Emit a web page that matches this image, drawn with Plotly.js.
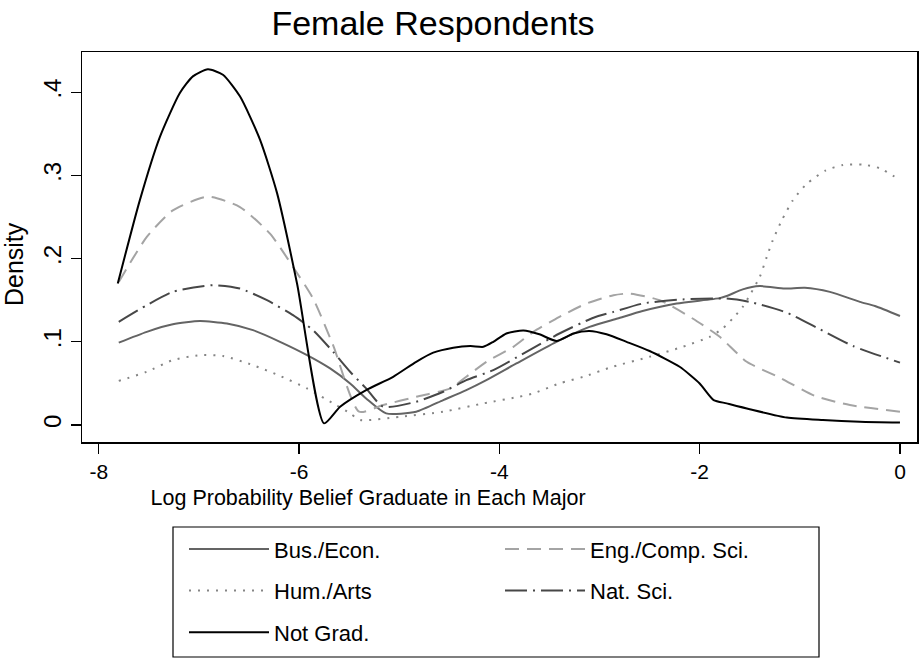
<!DOCTYPE html>
<html>
<head>
<meta charset="utf-8">
<script src="https://cdn.plot.ly/plotly-3.0.1.min.js"></script>
<style>html,body{margin:0;padding:0;background:#fff;}</style>
</head>
<body>
<div id="chart" style="width:923px;height:666px;"></div>
<script>
// ---- data ----
var seriesNames = ["Bus./Econ.", "Eng./Comp. Sci.", "Hum./Arts", "Nat. Sci.", "Not Grad."];

var busX = [-7.80, -7.52, -7.26, -6.99, -6.72, -6.46, -6.19, -5.92, -5.69, -5.49, -5.33, -5.13, -4.83, -4.56, -4.33, -4.13, -3.83, -3.43, -3.10, -2.82, -2.57, -2.23, -1.80, -1.73, -1.57, -1.40, -1.15, -0.95, -0.70, -0.40, -0.25, 0];
var busY = [0.099, 0.112, 0.121, 0.125, 0.122, 0.114, 0.100, 0.084, 0.068, 0.050, 0.032, 0.014, 0.016, 0.030, 0.042, 0.054, 0.074, 0.100, 0.118, 0.128, 0.137, 0.146, 0.1525, 0.155, 0.163, 0.167, 0.164, 0.165, 0.160, 0.148, 0.143, 0.131];

var engX = [-7.80, -7.52, -7.26, -6.91, -6.59, -6.29, -6.06, -5.86, -5.66, -5.40, -5.16, -4.83, -4.49, -4.33, -4.13, -3.86, -3.66, -3.40, -3.13, -2.86, -2.70, -2.40, -2.07, -1.80, -1.53, -1.20, -0.85, -0.50, 0];
var engY = [0.172, 0.226, 0.258, 0.2745, 0.262, 0.230, 0.190, 0.152, 0.096, 0.016, 0.024, 0.034, 0.044, 0.058, 0.076, 0.094, 0.112, 0.130, 0.146, 0.156, 0.158, 0.150, 0.128, 0.106, 0.076, 0.057, 0.035, 0.024, 0.016];

var humX = [-7.80, -7.52, -7.26, -6.99, -6.76, -6.46, -6.19, -5.92, -5.63, -5.49, -5.39, -4.99, -4.56, -4.16, -3.80, -3.66, -3.40, -3.16, -2.87, -2.50, -2.17, -1.90, -1.77, -1.67, -1.57, -1.50, -1.40, -1.33, -1.27, -1.18, -1.07, -0.93, -0.74, -0.57, -0.37, -0.20, 0];
var humY = [0.053, 0.064, 0.078, 0.084, 0.083, 0.072, 0.059, 0.044, 0.024, 0.014, 0.006, 0.010, 0.016, 0.026, 0.034, 0.038, 0.050, 0.058, 0.070, 0.082, 0.094, 0.106, 0.116, 0.128, 0.142, 0.156, 0.178, 0.202, 0.222, 0.246, 0.270, 0.290, 0.306, 0.3125, 0.313, 0.3085, 0.2945];

var natX = [-7.80, -7.52, -7.26, -6.86, -6.59, -6.32, -6.06, -5.86, -5.66, -5.49, -5.33, -5.16, -4.83, -4.56, -4.33, -4.06, -3.73, -3.40, -3.06, -2.86, -2.57, -2.17, -1.73, -1.50, -1.13, -0.83, -0.47, 0];
var natY = [0.124, 0.144, 0.160, 0.168, 0.164, 0.150, 0.132, 0.114, 0.088, 0.064, 0.044, 0.022, 0.028, 0.040, 0.054, 0.066, 0.088, 0.110, 0.129, 0.136, 0.146, 0.151, 0.152, 0.148, 0.135, 0.117, 0.095, 0.075];

var notX = [-7.81, -7.59, -7.39, -7.19, -7.06, -6.91, -6.76, -6.59, -6.39, -6.22, -6.02, -5.75, -5.59, -5.33, -5.06, -4.83, -4.66, -4.46, -4.29, -4.16, -4.06, -3.93, -3.76, -3.60, -3.43, -3.26, -3.10, -2.93, -2.73, -2.50, -2.20, -2.00, -1.86, -1.73, -1.50, -1.13, -0.77, -0.40, 0];
var notY = [0.170, 0.270, 0.346, 0.399, 0.419, 0.4275, 0.421, 0.395, 0.343, 0.279, 0.170, 0.002, 0.022, 0.042, 0.058, 0.076, 0.087, 0.093, 0.095, 0.094, 0.100, 0.110, 0.1135, 0.109, 0.101, 0.110, 0.113, 0.109, 0.100, 0.089, 0.070, 0.050, 0.030, 0.026, 0.019, 0.009, 0.006, 0.004, 0.003];

var xTickVals = [-8, -6, -4, -2, 0];
var xTickText = ["-8", "-6", "-4", "-2", "0"];
var yTickVals = [0, 0.1, 0.2, 0.3, 0.4];
var yTickText = ["0", ".1", ".2", ".3", ".4"];

var titleText = "Female Respondents";
var xTitle = "Log Probability Belief Graduate in Each Major";
var yTitle = "Density";

// ---- build ----
var FONT = "Liberation Sans, Arial, Helvetica, sans-serif";
// trailing non-breaking spaces (kept by a zero-width space) shift a centred title
function pad(n){ var s=""; for(var i=0;i<n;i++) s+="\u00A0"; return s + "\u200B"; }

function tr(x, y, name, color, dash, legendId){
  return {type:"scatter", mode:"lines", x:x, y:y, name:name, legend:legendId,
    legendgroup:name,
    line:{color:color, width:2, dash:dash, shape:"spline", smoothing:0.6},
    hoverinfo:"skip"};
}

var data = [
  tr(busX, busY, seriesNames[0], "#646464", "solid", "legend"),
  tr(engX, engY, seriesNames[1], "#a4a4a4", "14px,8px", "legend2"),
  tr(humX, humY, seriesNames[2], "#858585", "2px,7px", "legend"),
  tr(natX, natY, seriesNames[3], "#474747", "22px,6px,2px,6px", "legend2"),
  tr(notX, notY, seriesNames[4], "#000000", "solid", "legend")
];

var legendCommon = {
  orientation:"v", xanchor:"left", yanchor:"top", y:-0.221,
  traceorder:"grouped", tracegroupgap:10, itemwidth:80,
  font:{family:FONT, size:22, color:"#000"},
  bgcolor:"rgba(0,0,0,0)", borderwidth:0, itemclick:false, itemdoubleclick:false
};

var layout = {
  width:923, height:666,
  margin:{l:82, r:6, t:52, b:224, pad:0},
  paper_bgcolor:"#ffffff", plot_bgcolor:"#ffffff",
  font:{family:FONT, color:"#000"},
  title:{text:titleText, font:{family:FONT, size:34, color:"#000"},
         x:433/923, xref:"container", xanchor:"center",
         y:1-23/666, yref:"container", yanchor:"middle"},
  xaxis:{range:[-8.167, 0.170], tickmode:"array", tickvals:xTickVals, ticktext:xTickText,
         ticks:"outside", ticklen:10, tickwidth:1.3, tickcolor:"#000",
         showline:true, linecolor:"#000", linewidth:1.5, mirror:true,
         showgrid:false, zeroline:false, tickfont:{family:FONT, size:21, color:"#000"},
         title:{text:xTitle + pad(44), font:{family:FONT, size:21.5, color:"#000"}, standoff:8}},
  yaxis:{range:[-0.0204, 0.4483], tickmode:"array", tickvals:yTickVals, ticktext:yTickText,
         tickangle:-90, ticks:"outside", ticklen:10, tickwidth:1.3, tickcolor:"#000",
         showline:true, linecolor:"#000", linewidth:1.5, mirror:true,
         showgrid:false, zeroline:false, tickfont:{family:FONT, size:24, color:"#000"},
         title:{text:yTitle + pad(5), font:{family:FONT, size:25, color:"#000"}, standoff:8}},
  legend:Object.assign({}, legendCommon, {x:(184-82)/835}),
  legend2:Object.assign({}, legendCommon, {x:(500-82)/835}),
  shapes:[{type:"rect", xref:"paper", yref:"paper",
           x0:(173-82)/835, x1:(819-82)/835, y0:(442-527)/390, y1:(442-657)/390,
           line:{color:"#000", width:1.2}, fillcolor:"rgba(0,0,0,0)"}],
  showlegend:true
};

Plotly.newPlot("chart", data, layout, {staticPlot:true, displayModeBar:false});
</script>
</body>
</html>
